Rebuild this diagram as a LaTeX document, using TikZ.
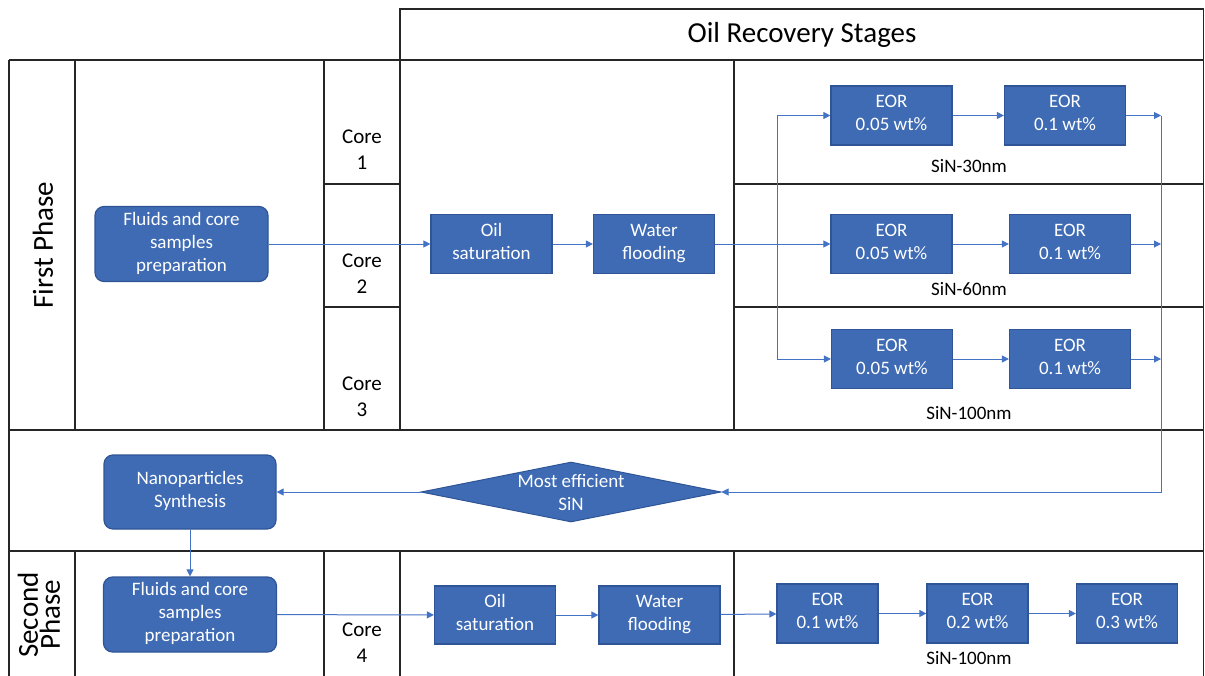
\documentclass[tikz,border=0pt]{standalone}
\usepackage{fontspec}
\setmainfont{Carlito}
\usetikzlibrary{arrows.meta, shapes.geometric}
\definecolor{cfill}{HTML}{3E6BB4}
\definecolor{cedge}{HTML}{2F5597}
\definecolor{cline}{HTML}{4472C4}
\definecolor{cgrid}{HTML}{262626}
\newcommand{\boxstrut}{\rule[-5pt]{0pt}{29pt}}
\tikzset{
  every picture/.style={line width=1pt},
  grid/.style={draw=cgrid, line width=1.6pt},
  stage/.style={draw=cedge, fill=cfill, text=white, align=center, font=\fontsize{19}{23}\selectfont, inner sep=0pt, line width=1.2pt, minimum width=#1, minimum height=59pt, execute at begin node=\boxstrut, execute at end node=\boxstrut},
  stage/.default=121pt,
  prep/.style={stage=173pt, rounded corners=9pt, minimum height=75pt},
  decision/.style={diamond, draw=cedge, fill=cfill, minimum width=300pt, minimum height=60pt, inner sep=0pt},
  arrow/.style={-{Triangle[length=7pt, width=7pt]}, draw=cline, line width=1pt},
  lane/.style={font=\fontsize{29}{22}\selectfont, rotate=90, align=center},
  core/.style={font=\fontsize{21}{26}\selectfont, align=center},
  size/.style={font=\fontsize{19}{23}\selectfont},
}

\begin{document}
\begin{tikzpicture}[x=1pt, y=-1pt]
  \useasboundingbox (0,0) rectangle (1205,675);
  % grid
  \draw[grid] (400,9) rectangle (1203.5,60);
  \foreach \y in {60,430,551} \draw[grid] (9,\y) -- (1203.5,\y);
  \draw[grid] (9,60) -- (9,676) (1203.5,60) -- (1203.5,676);
  \foreach \x in {75,324,400,734} {
    \draw[grid] (\x,60) -- (\x,430);
    \draw[grid] (\x,551) -- (\x,676);
  }
  \foreach \y in {184,307} {
    \draw[grid] (324,\y) -- (400,\y);
    \draw[grid] (734,\y) -- (1203.5,\y);
  }
  \node[font=\fontsize{29}{35}\selectfont] (title) at (802,35) {Oil Recovery Stages};
  \node[lane] (phase1) at (43,245) {First Phase};
  \node[lane] (phase2) at (39,615) {Second\\Phase};
  \node[core] (core1) at (362,150) {Core\\1};
  \node[core] (core2) at (362,274) {Core\\2};
  \node[core] (core3) at (362,397) {Core\\3};
  \node[core] (core4) at (362,643) {Core\\4};

  % first phase
  \node[prep] (fluids1) at (181.5,244) {Fluids and core\\samples\\preparation};
  \node[stage] (oilsat1) at (491.5,244) {Oil\\saturation};
  \node[stage] (water1) at (654,244) {Water\\flooding};
  \node[stage] (eora1) at (891.5,115.5) {EOR\\0.05 wt\%};
  \node[stage] (eora2) at (1065,115.5) {EOR\\0.1 wt\%};
  \node[stage] (eorb1) at (891.5,244) {EOR\\0.05 wt\%};
  \node[stage] (eorb2) at (1070,244) {EOR\\0.1 wt\%};
  \node[stage] (eorc1) at (892,359) {EOR\\0.05 wt\%};
  \node[stage] (eorc2) at (1070,359) {EOR\\0.1 wt\%};
  \node[size] (sina) at (969,166) {SiN-30nm};
  \node[size] (sinb) at (969,289) {SiN-60nm};
  \node[size] (sinc) at (969,413) {SiN-100nm};
  \coordinate (split) at (777,244);
  \coordinate (outa) at (1161,115.5);
  \coordinate (outb) at (1161,244);
  \coordinate (outc) at (1161,359);

  % selection
  \node[decision] (best) at (571,492) {};
  \node[size, text=white, align=center] (bestlabel) at (best) {Most efficient\\SiN};
  \node[prep, minimum width=172pt, minimum height=74pt] (nano) at (190,492) {Nanoparticles\\Synthesis};

  % second phase
  \node[prep] (fluids2) at (190,614.5) {Fluids and core\\samples\\preparation};
  \node[stage, minimum height=58pt] (oilsat2) at (495,615) {Oil\\saturation};
  \node[stage, minimum height=58pt] (water2) at (659.5,615) {Water\\flooding};
  \node[stage=101pt] (eord1) at (827.5,613.5) {EOR\\0.1 wt\%};
  \node[stage=101pt] (eord2) at (977.5,613.5) {EOR\\0.2 wt\%};
  \node[stage=101pt] (eord3) at (1127,613.5) {EOR\\0.3 wt\%};
  \node[size] (sind) at (969,658) {SiN-100nm};

  % connectors
  \draw[arrow] (fluids1) -- (oilsat1);
  \draw[arrow] (oilsat1) -- (water1);
  \draw[arrow] (water1) -- (eorb1);
  \draw[arrow] (split) |- (eora1);
  \draw[arrow] (split) |- (eorc1);
  \draw[arrow] (eora1) -- (eora2);
  \draw[arrow] (eorb1) -- (eorb2);
  \draw[arrow] (eorc1) -- (eorc2);
  \draw[arrow] (eora2) -- (outa);
  \draw[arrow] (eorb2) -- (outb);
  \draw[arrow] (eorc2) -- (outc);
  \draw[arrow] (outa) |- (best.east);
  \draw[arrow] (best.west) -- (nano);
  \draw[arrow] (nano) -- (fluids2);
  \draw[arrow] (fluids2) -- (oilsat2);
  \draw[arrow] (oilsat2) -- (water2);
  \draw[arrow] (water2) -- (eord1);
  \draw[arrow] (eord1) -- (eord2);
  \draw[arrow] (eord2) -- (eord3);
\end{tikzpicture}
\end{document}
